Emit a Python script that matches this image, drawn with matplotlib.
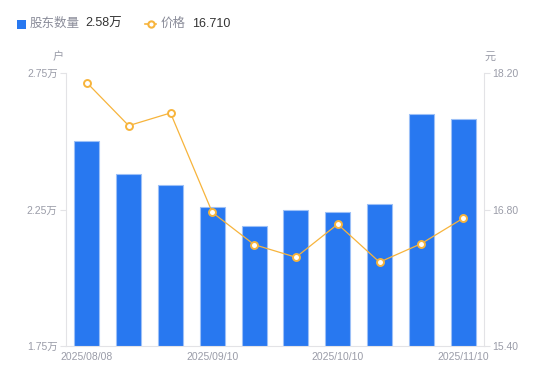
import matplotlib
matplotlib.use("Agg")
import matplotlib.pyplot as plt
from matplotlib.patches import Rectangle
from matplotlib.lines import Line2D

plt.rcParams['font.family'] = ['Liberation Sans', 'Noto Sans CJK SC', 'DejaVu Sans']

dates = ["2025/08/08", "2025/08/20", "2025/08/29", "2025/09/10", "2025/09/19",
         "2025/09/30", "2025/10/10", "2025/10/20", "2025/10/31", "2025/11/10"]
holders = [2.50, 2.38, 2.34, 2.26, 2.19, 2.25, 2.24, 2.27, 2.60, 2.58]  # 万户
price = [18.10, 17.66, 17.79, 16.77, 16.44, 16.31, 16.65, 16.26, 16.45, 16.71]
left_ticks = [1.75, 2.25, 2.75]
left_labels = ["1.75万", "2.25万", "2.75万"]
right_ticks = [15.40, 16.80, 18.20]
right_labels = ["15.40", "16.80", "18.20"]

W, H = 550, 381
fig = plt.figure(figsize=(W / 100, H / 100), dpi=100)
ax = fig.add_axes([66 / W, (H - 346) / H, (484 - 66) / W, (346 - 73) / H])
ax2 = ax.twinx()

bar_c = "#2878F0"
line_c = "#F7B43C"
tick_c = "#9A9CA8"
axis_c = "#E3E3E6"

x = list(range(len(dates)))
ax.bar(x, holders, width=0.6, color=bar_c, edgecolor="#9CC0F7", linewidth=0.8, zorder=2)
ax.set_xlim(-0.5, len(dates) - 0.5)
ax.set_ylim(1.75, 2.75)
ax.set_yticks(left_ticks)
ax.set_yticklabels(left_labels)

ax2.plot(x, price, color=line_c, linewidth=0.9, marker="o", markersize=5,
         markerfacecolor="white", markeredgecolor=line_c, markeredgewidth=1.4, zorder=3)
ax2.set_ylim(15.40, 18.20)
ax2.set_yticks(right_ticks)
ax2.set_yticklabels(right_labels)

ax.set_xticks(x[::3])
ax.set_xticklabels(dates[::3])

for a in (ax, ax2):
    for s in a.spines.values():
        s.set_visible(False)
ax.spines['left'].set_visible(True)
ax.spines['left'].set_color(axis_c)
ax.spines['bottom'].set_visible(True)
ax.spines['bottom'].set_color(axis_c)
ax2.spines['right'].set_visible(True)
ax2.spines['right'].set_color(axis_c)

ax.tick_params(axis='y', colors=axis_c, labelcolor=tick_c, labelsize=7.5, length=4, width=0.8, pad=2)
ax2.tick_params(axis='y', colors=axis_c, labelcolor=tick_c, labelsize=7.5, length=4, width=0.8, pad=2)
ax.tick_params(axis='x', length=0, labelcolor=tick_c, labelsize=7.5, pad=4)

fig.text(58 / W, 1 - 57 / H, "户", fontsize=8, color=tick_c, ha='center', va='center')
fig.text(490 / W, 1 - 57 / H, "元", fontsize=8, color=tick_c, ha='center', va='center')

# legend
fig.patches.append(Rectangle((17 / W, 1 - 29 / H), 9 / W, 9 / H, transform=fig.transFigure,
                             facecolor=bar_c, edgecolor='none'))
fig.text(30 / W, 1 - 24 / H, "股东数量", fontsize=9, color="#8A8C99", ha='left', va='center')
fig.text(85 / W, 1 - 24 / H, "2.58万", fontsize=9, color="#333333", ha='left', va='center')
fig.lines.append(Line2D([145 / W, 156 / W], [1 - 24 / H, 1 - 24 / H], transform=fig.transFigure,
                        color=line_c, linewidth=1.2))
fig.lines.append(Line2D([150.5 / W], [1 - 24 / H], transform=fig.transFigure, marker='o',
                        markersize=4.5, markerfacecolor='white', markeredgecolor=line_c,
                        markeredgewidth=1.5, linestyle='none'))
fig.text(161 / W, 1 - 24 / H, "价格", fontsize=9, color="#8A8C99", ha='left', va='center')
fig.text(192 / W, 1 - 24 / H, "16.710", fontsize=9, color="#333333", ha='left', va='center')

fig.savefig("out.png", dpi=100)
